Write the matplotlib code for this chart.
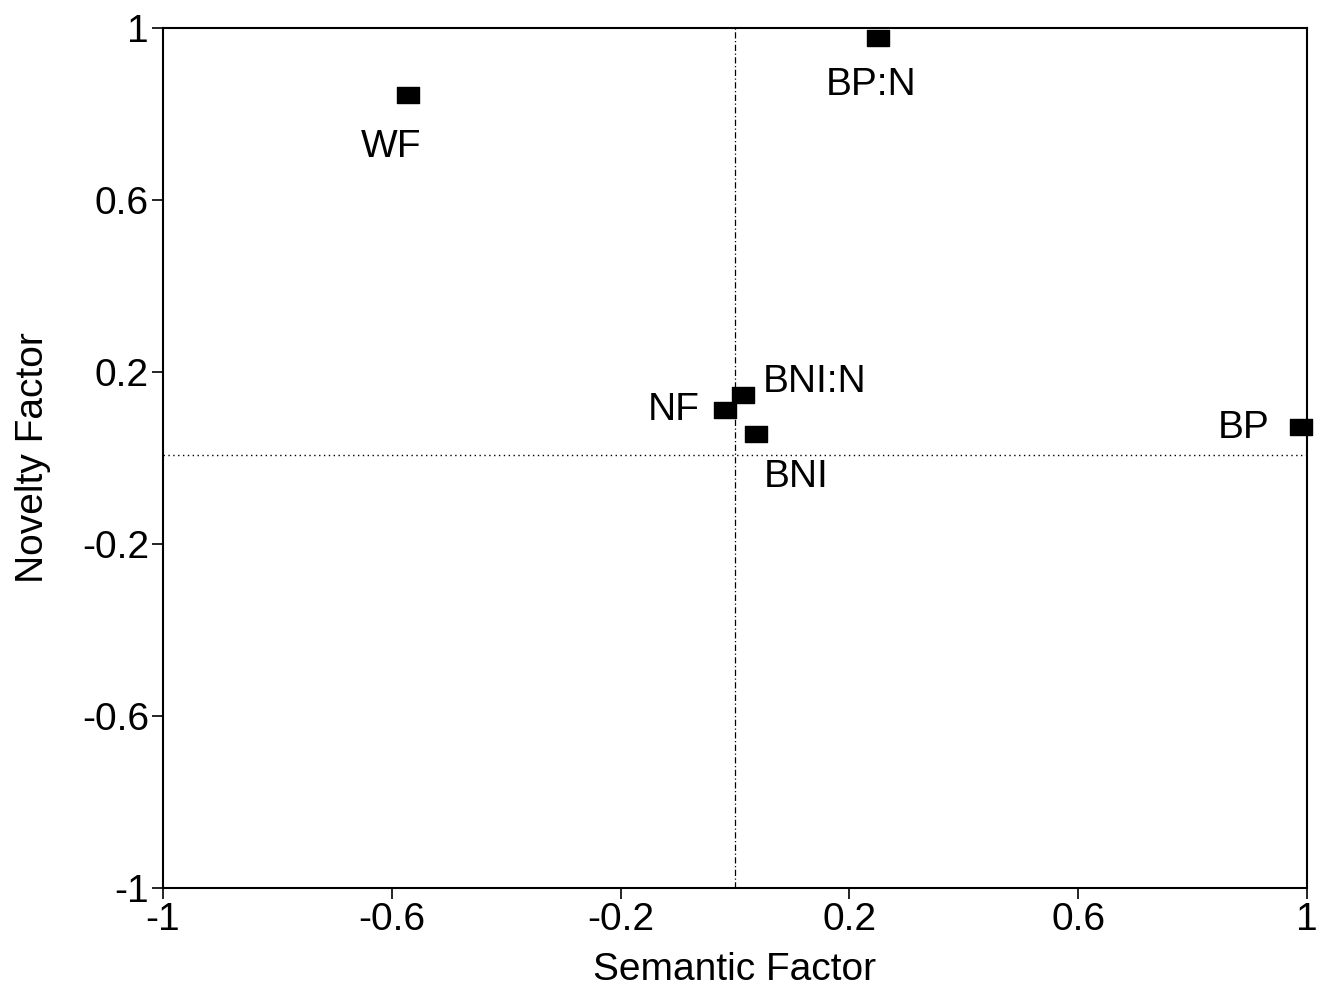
import matplotlib
matplotlib.use("Agg")
import matplotlib.pyplot as plt
from matplotlib.path import Path

plt.rcParams['font.family'] = ['Liberation Sans', 'DejaVu Sans']

labels = ["WF", "BP:N", "NF", "BNI:N", "BNI", "BP"]
semantic = [-0.572, 0.250, -0.017, 0.014, 0.037, 0.990]
novelty = [0.844, 0.977, 0.112, 0.146, 0.056, 0.072]
ticks = [-1, -0.6, -0.2, 0.2, 0.6, 1]
tick_labels = ["-1", "-0.6", "-0.2", "0.2", "0.6", "1"]

fig = plt.figure(figsize=(13.19, 9.92), dpi=100)
ax = fig.add_axes([163/1319, 104/992, 1144/1319, 860/992])

rect = Path([(-1.3, -1), (1.3, -1), (1.3, 1), (-1.3, 1), (-1.3, -1)],
            [Path.MOVETO, Path.LINETO, Path.LINETO, Path.LINETO, Path.CLOSEPOLY])
ax.plot(semantic, novelty, linestyle='none', marker=rect, markersize=15.5,
        color='black', zorder=3, clip_on=False)

ax.axvline(0, color='black', lw=0.9, linestyle=(0, (5, 2, 1, 2)), zorder=1)
ax.axhline(0.008, color='black', lw=1.0, linestyle=(0, (1, 2.5)), zorder=1)

fs = 28
offsets = {
    "WF": (-0.03, -0.12, 'center', 'center'),
    "BP:N": (-0.012, -0.11, 'center', 'center'),
    "NF": (-0.045, 0.0, 'right', 'center'),
    "BNI:N": (0.035, 0.03, 'left', 'center'),
    "BNI": (0.07, -0.1, 'center', 'center'),
    "BP": (-0.055, -0.003, 'right', 'center'),
}
for lab, x, y in zip(labels, semantic, novelty):
    dx, dy, ha, va = offsets[lab]
    ax.text(x + dx, y + dy, lab, fontsize=fs, ha=ha, va=va, color='black')

ax.set_xlim(-1, 1)
ax.set_ylim(-1, 1)
ax.set_xticks(ticks)
ax.set_xticklabels(tick_labels)
ax.set_yticks(ticks)
ax.set_yticklabels(tick_labels)
ax.tick_params(axis='both', direction='out', length=8, width=1.2,
               labelsize=fs, color='black', pad=2)
for s in ax.spines.values():
    s.set_linewidth(1.5)
    s.set_color('black')

ax.set_xlabel("Semantic Factor", fontsize=fs, labelpad=10)
ax.set_ylabel("Novelty Factor", fontsize=fs, labelpad=22)

fig.savefig("out.png", dpi=100)
